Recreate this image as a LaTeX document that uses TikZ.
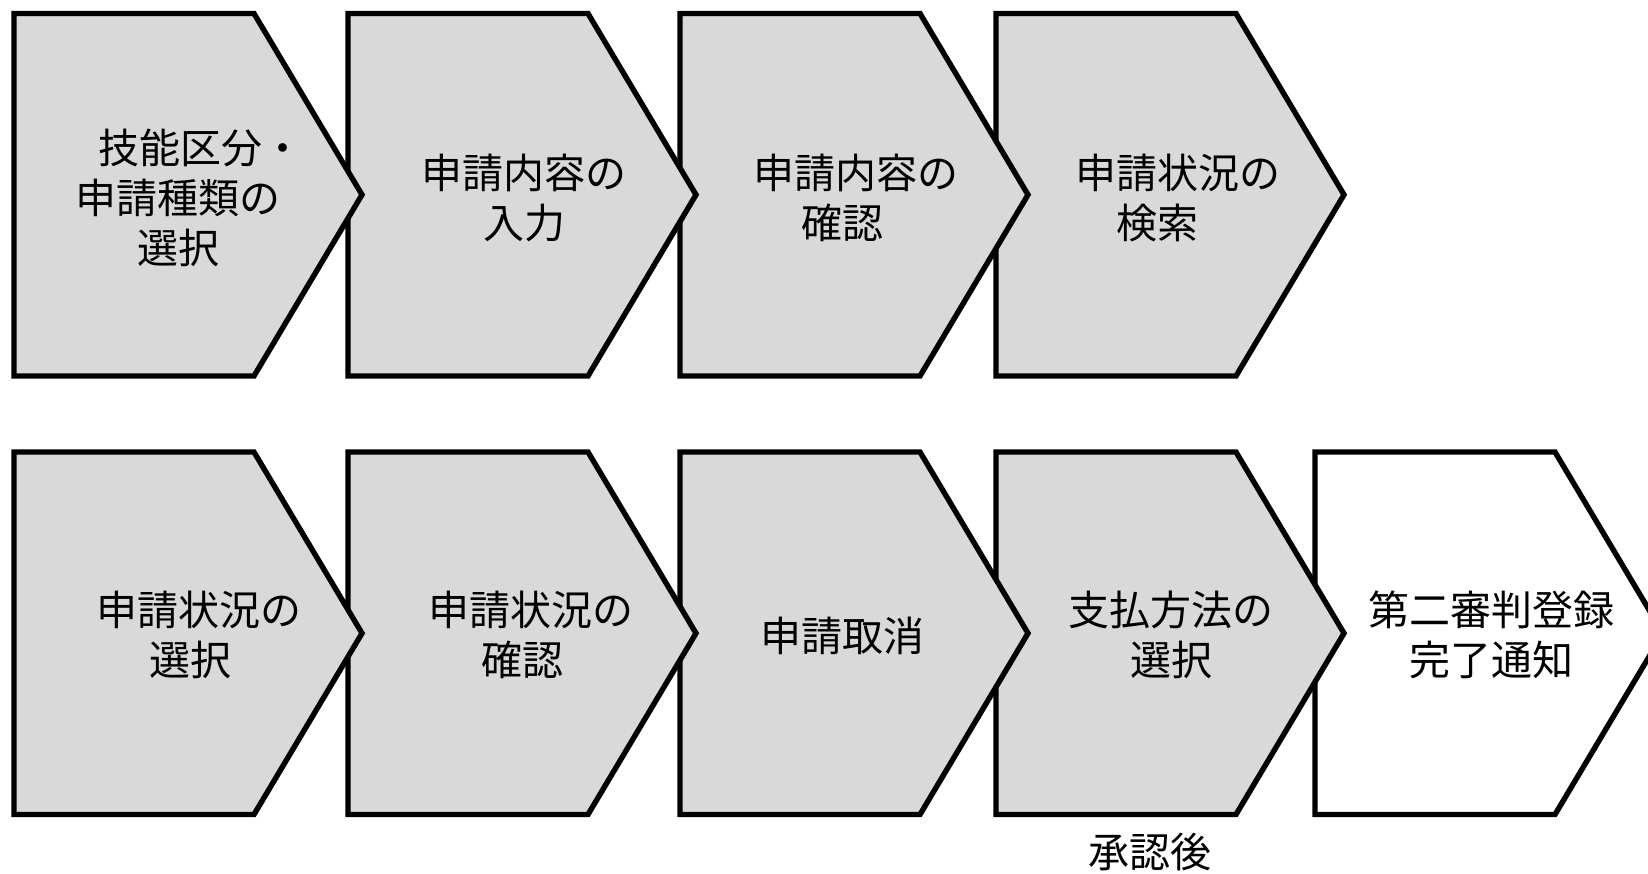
\documentclass[tikz,border=0pt]{standalone}
\usepackage{fontspec}
\newfontfamily\jpfont{Noto Sans CJK JP}
\definecolor{stepgray}{RGB}{217,217,217}
\tikzset{
  chevron/.style={draw=black,line width=2.7pt,fill=stepgray},
  steplabel/.style={font=\jpfont\fontsize{20.5}{25}\selectfont,align=center,inner sep=0pt}
}
\newcommand{\stepshape}[3][stepgray]{%
  \draw[chevron,fill=#1] (#2,#3) -- ++(240,0) -- ++(108,181.25) -- ++(-108,181.25) -- ++(-240,0) -- cycle;}

\begin{document}
\begin{tikzpicture}[x=0.5pt,y=-0.5pt]
\useasboundingbox (0,0) rectangle (1648,873);
\clip (0,0) rectangle (1648,873);
% upper row, drawn right to left
\stepshape{996}{13.5}
\stepshape{680}{13.5}
\stepshape{348}{13.5}
\stepshape{14}{13.5}
% lower row
\stepshape[white]{1315}{452}
\stepshape{996}{452}
\stepshape{680}{452}
\stepshape{348}{452}
\stepshape{14}{452}

\node[steplabel] (t1) at (178,197.5) {\kern1.1em技能区分・\\申請種類の\\選択};
\node[steplabel] (t2) at (524,197.5) {申請内容の\\入力};
\node[steplabel] (t3) at (856,197.5) {申請内容の\\確認\kern.65em};
\node[steplabel] (t4) at (1177.5,197.5) {申請状況の\\検索\kern1em};

\node[steplabel] (b1) at (198.5,634.5) {申請状況の\\選択\kern.4em};
\node[steplabel] (b2) at (531,634.5) {申請状況の\\確認\kern.4em};
\node[steplabel] (b3) at (842,636) {申請取消};
\node[steplabel] (b4) at (1171,634.5) {支払方法の\\選択};
\node[steplabel] (b5) at (1491,634.5) {第二審判登録\\完了通知};
\node[steplabel] (after) at (1150,852) {承認後};
\end{tikzpicture}
\end{document}
